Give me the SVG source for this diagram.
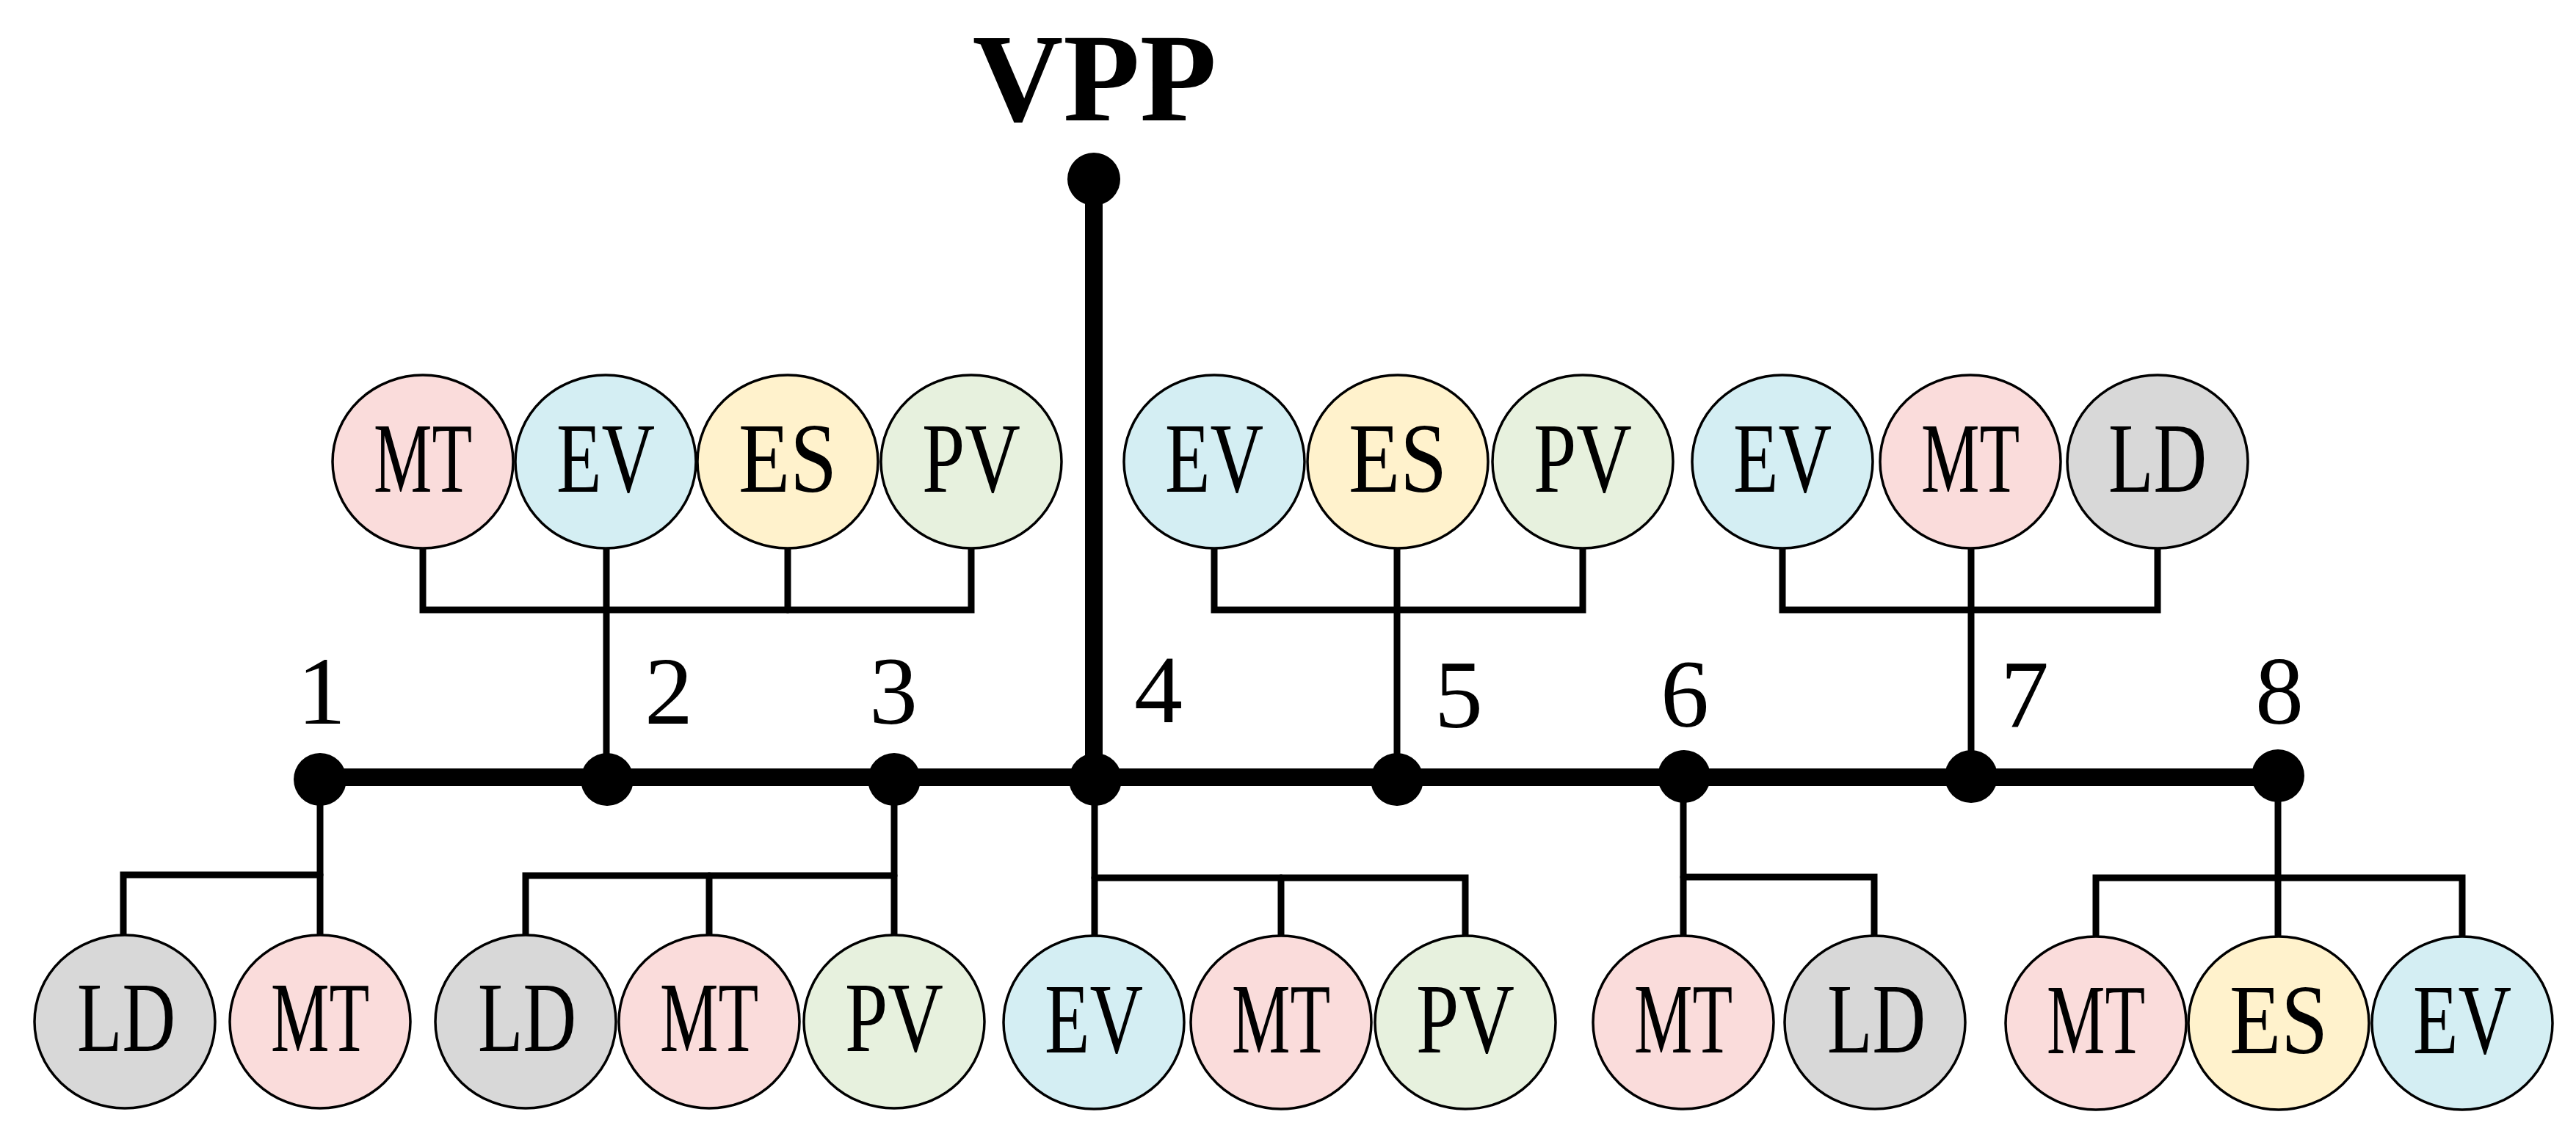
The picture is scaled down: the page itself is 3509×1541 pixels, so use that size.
<svg xmlns="http://www.w3.org/2000/svg" width="3509" height="1541" viewBox="0 0 3509 1541">
<style>
.n ellipse{stroke:#000;stroke-width:3.5}
.lbl{font-family:"Liberation Serif","Times New Roman",serif;font-size:136px;text-anchor:middle;fill:#000}
.num{font-family:"Liberation Serif","Times New Roman",serif;font-size:132px;text-anchor:middle;fill:#000}
.mt{fill:#FADCDB}.ev{fill:#D4EEF3}.es{fill:#FFF2CC}.pv{fill:#E7F1DE}.ld{fill:#D8D8D8}
.thin{stroke:#000;stroke-width:9;fill:none;stroke-linecap:round;stroke-linejoin:miter}
.thick{stroke:#000;stroke-width:24;fill:none}
</style>
<rect width="3509" height="1541" fill="#fff"/>
<text x="1491" y="164" font-family="Liberation Serif,'Times New Roman',serif" font-weight="bold" font-size="171" text-anchor="middle">VPP</text>
<g id="connectors">
<line class="thick" x1="1490" y1="244" x2="1490" y2="1059"/>
<line class="thick" x1="436" y1="1059" x2="3103" y2="1059"/>
<!-- top group 2 -->
<polyline class="thin" points="576,747 576,831 1323,831 1323,747"/>
<line class="thin" x1="826" y1="747" x2="826" y2="1059"/>
<line class="thin" x1="1073" y1="747" x2="1073" y2="831"/>
<!-- top group 5 -->
<polyline class="thin" points="1654,747 1654,831 2156,831 2156,747"/>
<line class="thin" x1="1903" y1="747" x2="1903" y2="1059"/>
<!-- top group 7 -->
<polyline class="thin" points="2428,747 2428,831 2939,831 2939,747"/>
<line class="thin" x1="2685" y1="747" x2="2685" y2="1059"/>
<!-- bottom group 1 -->
<polyline class="thin" points="168,1274 168,1192 436,1192"/>
<line class="thin" x1="436" y1="1059" x2="436" y2="1274"/>
<!-- bottom group 3 -->
<polyline class="thin" points="716,1274 716,1193 1218,1193"/>
<line class="thin" x1="966" y1="1193" x2="966" y2="1274"/>
<line class="thin" x1="1218" y1="1059" x2="1218" y2="1274"/>
<!-- bottom group 4 -->
<polyline class="thin" points="1491,1196 1996,1196 1996,1274"/>
<line class="thin" x1="1745" y1="1196" x2="1745" y2="1274"/>
<line class="thin" x1="1491" y1="1059" x2="1491" y2="1274"/>
<!-- bottom group 6 -->
<polyline class="thin" points="2293,1195 2553,1195 2553,1274"/>
<line class="thin" x1="2293" y1="1059" x2="2293" y2="1274"/>
<!-- bottom group 8 -->
<polyline class="thin" points="2855,1274 2855,1196 3354,1196 3354,1274"/>
<line class="thin" x1="3103" y1="1059" x2="3103" y2="1274"/>
</g>
<g id="buses">
<circle id="vpp-dot" cx="1490" cy="244" r="36"/>
<g id="bus1"><circle cx="436" cy="1062" r="36"/><text class="num" x="438" y="986">1</text></g>
<g id="bus2"><circle cx="827" cy="1062" r="36"/><text class="num" x="911" y="986">2</text></g>
<g id="bus3"><circle cx="1218" cy="1062" r="36"/><text class="num" x="1217" y="986">3</text></g>
<g id="bus4"><circle cx="1492" cy="1062" r="36"/><text class="num" x="1578" y="984">4</text></g>
<g id="bus5"><circle cx="1903" cy="1062" r="36"/><text class="num" x="1987" y="991">5</text></g>
<g id="bus6"><circle cx="2294" cy="1058" r="36"/><text class="num" x="2295" y="990">6</text></g>
<g id="bus7"><circle cx="2685" cy="1058" r="36"/><text class="num" x="2758" y="990">7</text></g>
<g id="bus8"><circle cx="3103" cy="1057" r="36"/><text class="num" x="3105" y="986">8</text></g>
</g>
<g class="n">
<g id="t2-mt"><ellipse class="mt" cx="576" cy="629" rx="123" ry="118"/><text class="lbl" x="576" y="670" textLength="134" lengthAdjust="spacingAndGlyphs">MT</text></g>
<g id="t2-ev"><ellipse class="ev" cx="825" cy="629" rx="123" ry="118"/><text class="lbl" x="825" y="670" textLength="134" lengthAdjust="spacingAndGlyphs">EV</text></g>
<g id="t2-es"><ellipse class="es" cx="1073" cy="629" rx="123" ry="118"/><text class="lbl" x="1073" y="670" textLength="134" lengthAdjust="spacingAndGlyphs">ES</text></g>
<g id="t2-pv"><ellipse class="pv" cx="1323" cy="629" rx="123" ry="118"/><text class="lbl" x="1323" y="670" textLength="134" lengthAdjust="spacingAndGlyphs">PV</text></g>
<g id="t5-ev"><ellipse class="ev" cx="1654" cy="629" rx="123" ry="118"/><text class="lbl" x="1654" y="670" textLength="134" lengthAdjust="spacingAndGlyphs">EV</text></g>
<g id="t5-es"><ellipse class="es" cx="1904" cy="629" rx="123" ry="118"/><text class="lbl" x="1904" y="670" textLength="134" lengthAdjust="spacingAndGlyphs">ES</text></g>
<g id="t5-pv"><ellipse class="pv" cx="2156" cy="629" rx="123" ry="118"/><text class="lbl" x="2156" y="670" textLength="134" lengthAdjust="spacingAndGlyphs">PV</text></g>
<g id="t7-ev"><ellipse class="ev" cx="2428" cy="629" rx="123" ry="118"/><text class="lbl" x="2428" y="670" textLength="134" lengthAdjust="spacingAndGlyphs">EV</text></g>
<g id="t7-mt"><ellipse class="mt" cx="2684" cy="629" rx="123" ry="118"/><text class="lbl" x="2684" y="670" textLength="134" lengthAdjust="spacingAndGlyphs">MT</text></g>
<g id="t7-ld"><ellipse class="ld" cx="2939" cy="629" rx="123" ry="118"/><text class="lbl" x="2939" y="670" textLength="134" lengthAdjust="spacingAndGlyphs">LD</text></g>
<g id="b1-ld"><ellipse class="ld" cx="170" cy="1392" rx="123" ry="118"/><text class="lbl" x="172" y="1432" textLength="134" lengthAdjust="spacingAndGlyphs">LD</text></g>
<g id="b1-mt"><ellipse class="mt" cx="436" cy="1392" rx="123" ry="118"/><text class="lbl" x="436" y="1432" textLength="134" lengthAdjust="spacingAndGlyphs">MT</text></g>
<g id="b3-ld"><ellipse class="ld" cx="716" cy="1392" rx="123" ry="118"/><text class="lbl" x="718" y="1432" textLength="134" lengthAdjust="spacingAndGlyphs">LD</text></g>
<g id="b3-mt"><ellipse class="mt" cx="966" cy="1392" rx="123" ry="118"/><text class="lbl" x="966" y="1432" textLength="134" lengthAdjust="spacingAndGlyphs">MT</text></g>
<g id="b3-pv"><ellipse class="pv" cx="1218" cy="1392" rx="123" ry="118"/><text class="lbl" x="1218" y="1432" textLength="134" lengthAdjust="spacingAndGlyphs">PV</text></g>
<g id="b4-ev"><ellipse class="ev" cx="1490" cy="1393" rx="123" ry="118"/><text class="lbl" x="1490" y="1434" textLength="134" lengthAdjust="spacingAndGlyphs">EV</text></g>
<g id="b4-mt"><ellipse class="mt" cx="1745" cy="1393" rx="123" ry="118"/><text class="lbl" x="1745" y="1434" textLength="134" lengthAdjust="spacingAndGlyphs">MT</text></g>
<g id="b4-pv"><ellipse class="pv" cx="1996" cy="1393" rx="123" ry="118"/><text class="lbl" x="1996" y="1434" textLength="134" lengthAdjust="spacingAndGlyphs">PV</text></g>
<g id="b6-mt"><ellipse class="mt" cx="2293" cy="1393" rx="123" ry="118"/><text class="lbl" x="2293" y="1434" textLength="134" lengthAdjust="spacingAndGlyphs">MT</text></g>
<g id="b6-ld"><ellipse class="ld" cx="2554" cy="1393" rx="123" ry="118"/><text class="lbl" x="2556" y="1434" textLength="134" lengthAdjust="spacingAndGlyphs">LD</text></g>
<g id="b8-mt"><ellipse class="mt" cx="2855" cy="1394" rx="123" ry="118"/><text class="lbl" x="2855" y="1435" textLength="134" lengthAdjust="spacingAndGlyphs">MT</text></g>
<g id="b8-es"><ellipse class="es" cx="3104" cy="1394" rx="123" ry="118"/><text class="lbl" x="3104" y="1435" textLength="134" lengthAdjust="spacingAndGlyphs">ES</text></g>
<g id="b8-ev"><ellipse class="ev" cx="3354" cy="1394" rx="123" ry="118"/><text class="lbl" x="3354" y="1435" textLength="134" lengthAdjust="spacingAndGlyphs">EV</text></g>
</g>
</svg>
